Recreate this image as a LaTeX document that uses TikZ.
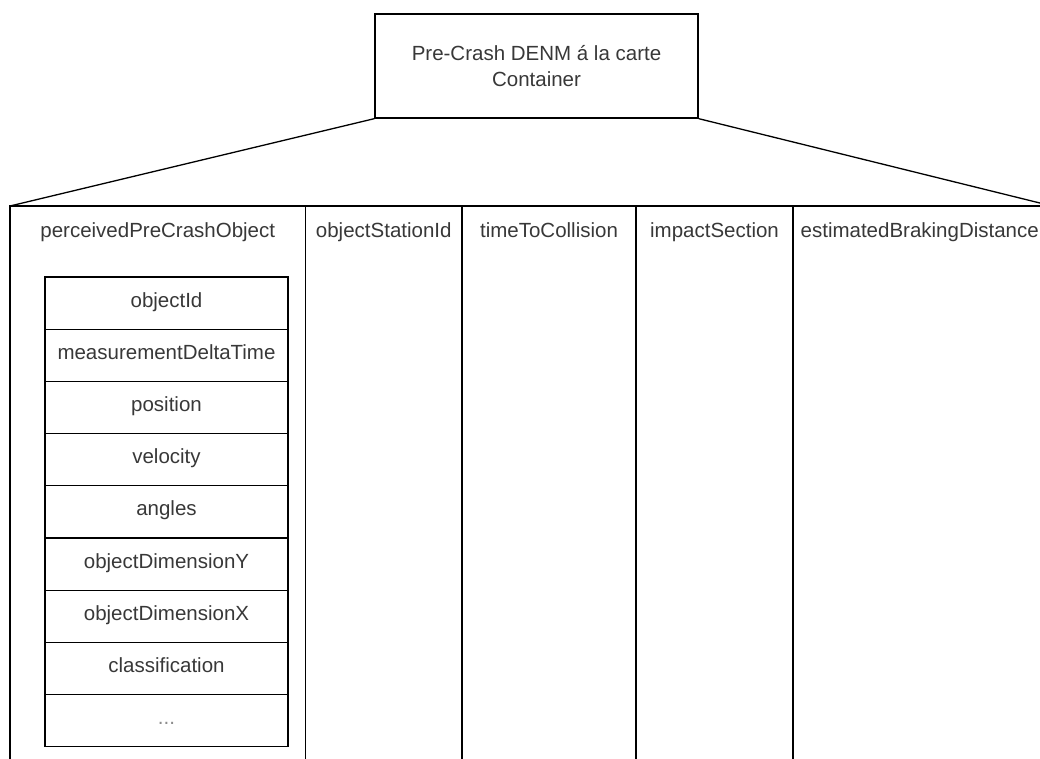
\documentclass[tikz,border=0pt]{standalone}
\usepackage{fontspec}
\setmainfont{Liberation Sans}
\usetikzlibrary{positioning}

\begin{document}
\begin{tikzpicture}[x=1pt,y=-1pt,line width=1.3pt,
        box/.style={shape=rectangle,draw=black,inner sep=0pt},
        txt/.style={text=black!78,font=\fontsize{20.5}{25.5}\selectfont},
        lbl/.style={txt,text height=14pt,text depth=6pt},
        rowbox/.style={box,lbl,minimum width=243pt,minimum height=52.2pt}]
                \useasboundingbox (0,0) rectangle (1040,758);
                \clip (0,0) rectangle (1040,758);
                % top container box
                \node[box,txt,align=center,minimum width=323pt,minimum height=104pt](top)at(536.5,66){Pre-Crash DENM á la carte\\Container};
                \coordinate (cl) at (10,206);
                \coordinate (cr) at (1052,206);
                \path[] (top.south west) edge (cl)
                (top.south east) edge (cr);
                % columns
                \draw (cl) rectangle (1052,780);
                \coordinate (s1) at (305.5,206);
                \coordinate (s2) at (462,206);
                \coordinate (s3) at (636,206);
                \coordinate (s4) at (793,206);
                \draw (s1) -- ++(0,580) (s2) -- ++(0,580) (s3) -- ++(0,580) (s4) -- ++(0,580);
                \node[lbl](h1)at(157.75, 233){perceivedPreCrashObject};
                \node[lbl](h2)at(383.75, 233){objectStationId};
                \node[lbl](h3)at(549, 233){timeToCollision};
                \node[lbl](h4)at(714.5, 233){impactSection};
                \node[lbl,anchor=west,inner xsep=0pt](h5)at(800, 233){estimatedBrakingDistance};
                % object fields
                \node[rowbox](r1)at(166.5, 303.1){objectId};
                \node[rowbox](r2)at(166.5, 355.3){measurementDeltaTime};
                \node[rowbox](r3)at(166.5, 407.5){position};
                \node[rowbox](r4)at(166.5, 459.7){velocity};
                \node[rowbox](r5)at(166.5, 511.9){angles};
                \node[rowbox](r6)at(166.5, 564.1){objectDimensionY};
                \node[rowbox](r7)at(166.5, 616.3){objectDimensionX};
                \node[rowbox](r8)at(166.5, 668.5){classification};
                \node[rowbox,text=black!45](r9)at(166.5, 720.7){...};
            \end{tikzpicture}
\end{document}
